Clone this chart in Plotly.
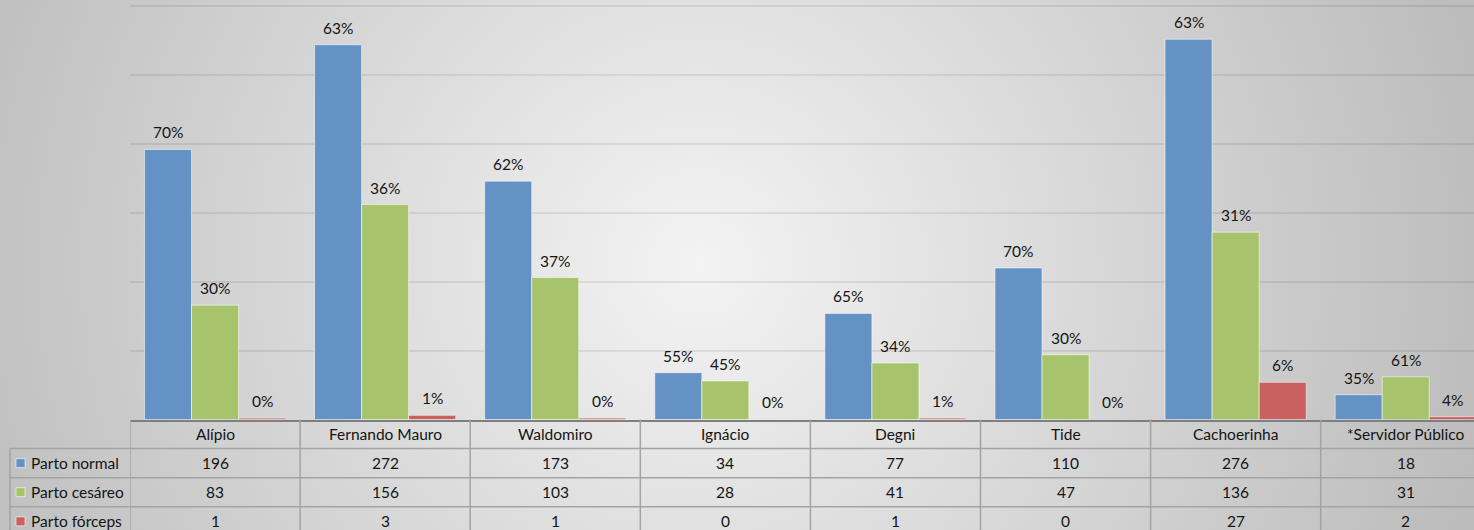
import base64
import plotly.graph_objects as go

# ---------------- data ----------------
categories = ["Alípio", "Fernando Mauro", "Waldomiro", "Ignácio", "Degni",
              "Tide", "Cachoerinha", "*Servidor Público"]
series_names = ["Parto normal", "Parto cesáreo", "Parto fórceps"]
parto_normal = [196, 272, 173, 34, 77, 110, 276, 18]
parto_cesareo = [83, 156, 103, 28, 41, 47, 136, 31]
parto_forceps = [1, 3, 1, 0, 1, 0, 27, 2]

series_values = [parto_normal, parto_cesareo, parto_forceps]
colors = ["#6592c5", "#a7c46c", "#c8615f"]

W, H = 1474, 530
FONT = "Lato"
FS = 15.5
TXT = "#141414"

totals = [sum(v) for v in zip(*series_values)]

# layout geometry (pixels from top -> paper)
def py(px):
    return (H - px) / H

def pxx(px):
    return px / W

baseline_px = 419.5
top_px = 6.3
row_px = [419.5, 448.5, 477.7, 506.7, 536.0]
bargap = 0.17
n = len(categories)

fig = go.Figure()
for name, vals, col in zip(series_names, series_values, colors):
    fig.add_trace(go.Bar(
        x=list(range(n)), y=vals, name=name,
        marker=dict(color=col,
                    line=dict(color="rgba(255,255,255,0.55)",
                              width=[1 if v > 0 else 0 for v in vals])),
        hoverinfo="skip", showlegend=False,
    ))

annotations = []
shapes = []

# percentage labels above bars
bw = (1 - bargap) / len(series_values)
for j, vals in enumerate(series_values):
    for i, v in enumerate(vals):
        pct = round(100 * v / totals[i])
        annotations.append(dict(
            x=i + (j - 1) * bw, y=v, xref="x", yref="y",
            text=f"{pct}%", showarrow=False, yanchor="bottom", yshift=6,
            font=dict(family=FONT, size=FS, color=TXT),
        ))

# data table: header texts
hdr_y = py((row_px[0] + row_px[1]) / 2)
for i, c in enumerate(categories):
    annotations.append(dict(
        x=i, y=hdr_y, xref="x", yref="paper", text=c, showarrow=False,
        xanchor="center", yanchor="middle",
        font=dict(family=FONT, size=FS, color=TXT),
    ))

# value rows
for r, (name, vals, col) in enumerate(zip(series_names, series_values, colors)):
    cy = py((row_px[r + 1] + row_px[r + 2]) / 2)
    for i, v in enumerate(vals):
        annotations.append(dict(
            x=i, y=cy, xref="x", yref="paper", text=str(v), showarrow=False,
            xanchor="center", yanchor="middle",
            font=dict(family=FONT, size=FS, color=TXT),
        ))
    annotations.append(dict(
        x=pxx(29), y=cy, xref="paper", yref="paper", text=name, showarrow=False,
        xanchor="left", yanchor="middle",
        font=dict(family=FONT, size=FS, color=TXT),
    ))
    shapes.append(dict(
        type="rect", xref="paper", yref="paper",
        x0=pxx(16), x1=pxx(25), y0=cy - 4.5 / H, y1=cy + 4.5 / H,
        fillcolor=col, line=dict(color="rgba(255,255,255,0.6)", width=1),
    ))

LINE = dict(color="#a3a3a3", width=1.5)
# vertical lines between categories
for k in range(-1, n):
    shapes.append(dict(type="line", xref="x", yref="paper",
                       x0=k + 0.5, x1=k + 0.5, y0=0, y1=py(baseline_px), line=LINE))
# left edge of legend column
shapes.append(dict(type="line", xref="paper", yref="paper",
                   x0=pxx(10), x1=pxx(10), y0=0, y1=py(row_px[1]), line=LINE))
# horizontal row lines
for rp in row_px[1:4]:
    shapes.append(dict(type="line", xref="paper", yref="paper",
                       x0=pxx(10), x1=1, y0=py(rp), y1=py(rp), line=LINE))

# radial gradient background
svg = (f'<svg xmlns="http://www.w3.org/2000/svg" width="{W}" height="{H}">'
       '<defs><radialGradient id="g" gradientUnits="userSpaceOnUse" cx="700" cy="265" r="800">'
       '<stop offset="0" stop-color="#f3f3f3"/><stop offset="1" stop-color="#bcbcbc"/>'
       '</radialGradient></defs>'
       f'<rect width="{W}" height="{H}" fill="url(#g)"/></svg>')
bg_src = "data:image/svg+xml;base64," + base64.b64encode(svg.encode()).decode()

cat_w = (W - 130) / 170.1
ymax = 300
fig.update_layout(
    width=W, height=H,
    margin=dict(l=0, r=0, t=0, b=0),
    paper_bgcolor="#e6e6e6",
    plot_bgcolor="rgba(0,0,0,0)",
    barmode="group", bargap=bargap, bargroupgap=0,
    images=[dict(source=bg_src, xref="paper", yref="paper", x=0, y=1,
                 sizex=1, sizey=1, sizing="stretch", layer="below",
                 xanchor="left", yanchor="top")],
    xaxis=dict(domain=[pxx(130), 1], range=[-0.5, -0.5 + cat_w],
               showticklabels=False, showgrid=False, zeroline=False,
               showline=True, linecolor="#7f7f7f", linewidth=2, ticks=""),
    yaxis=dict(domain=[py(baseline_px), py(top_px - 1.5)], range=[0, ymax + 1],
               tickvals=[50, 100, 150, 200, 250, 300],
               showticklabels=False, showgrid=True,
               gridcolor="rgba(0,0,0,0.075)", gridwidth=2, zeroline=False),
    annotations=annotations,
    shapes=shapes,
    font=dict(family=FONT, size=FS, color=TXT),
)

fig.write_html("out.html", config={"displayModeBar": False},
               post_script="document.body.style.margin='0';document.body.style.overflow='hidden';")
